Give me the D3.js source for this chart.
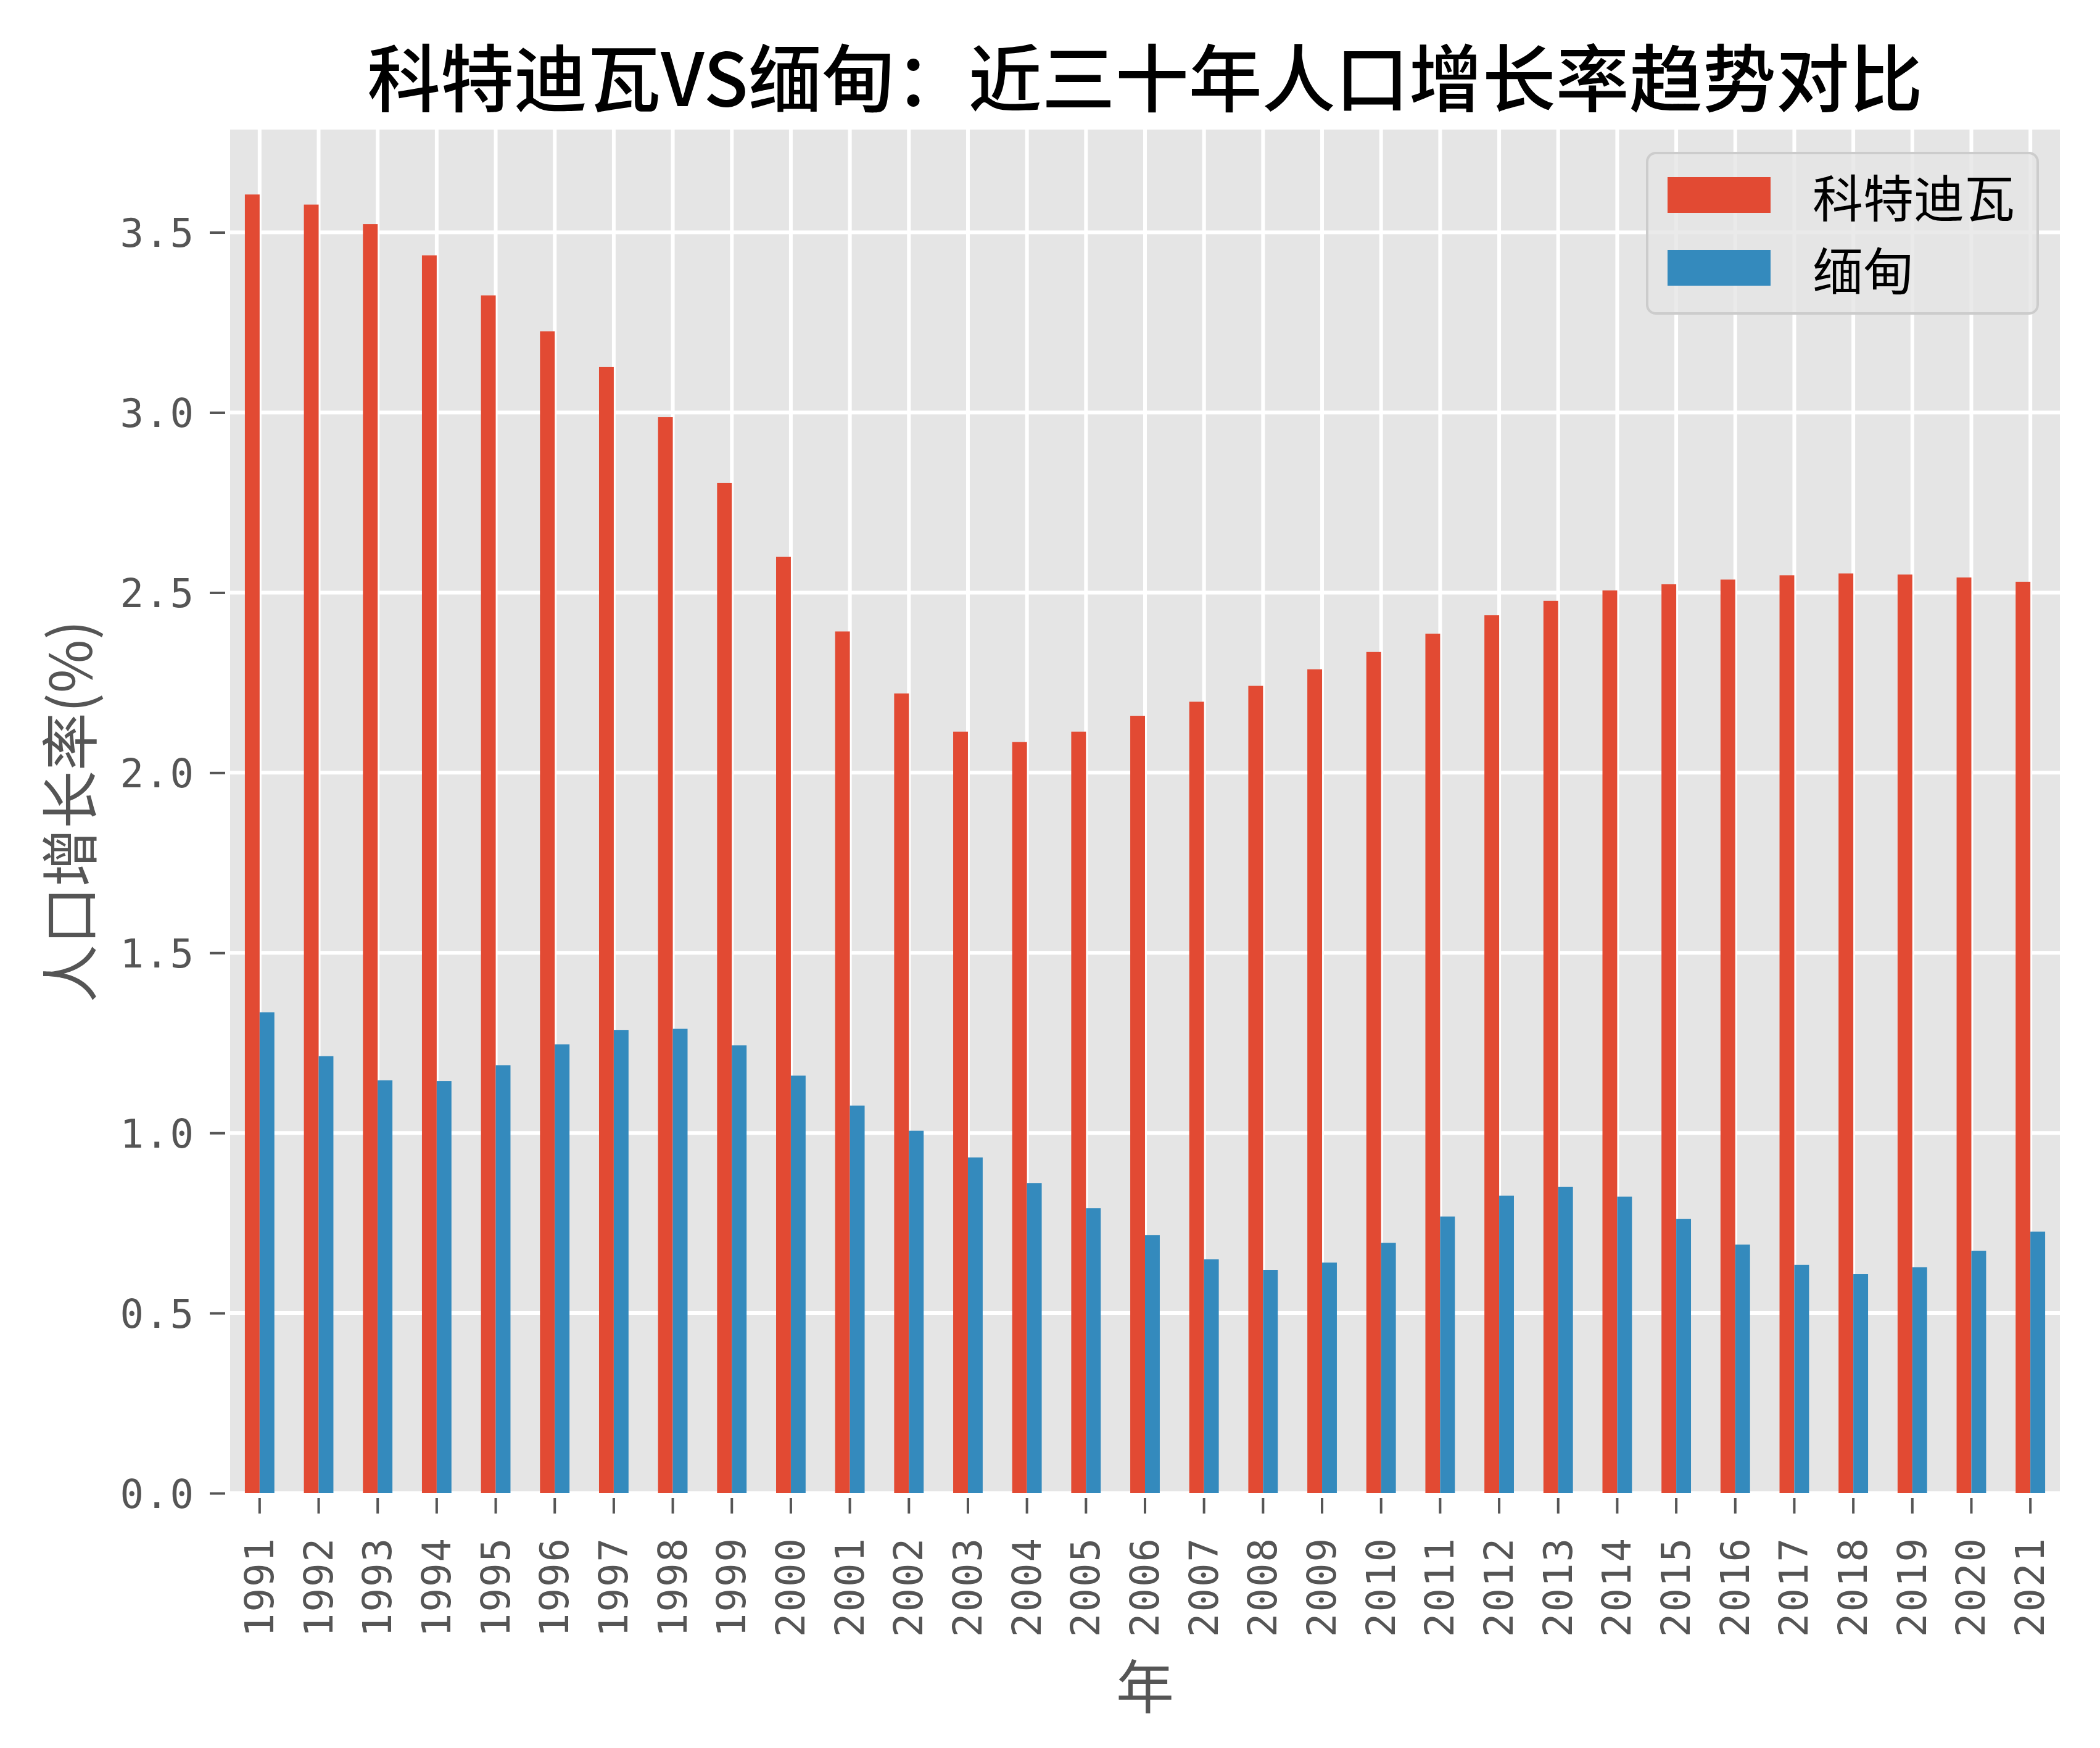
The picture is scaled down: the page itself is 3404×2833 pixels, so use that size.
<!DOCTYPE html>
<html>
<head>
<meta charset="utf-8">
<script src="https://cdn.jsdelivr.net/npm/d3@7"></script>
<style>
  html, body { margin: 0; padding: 0; background: #fff; }
</style>
</head>
<body>
<div id="chart"></div>
<script>
// 数据
const years = ["1991","1992","1993","1994","1995","1996","1997","1998","1999","2000",
               "2001","2002","2003","2004","2005","2006","2007","2008","2009","2010",
               "2011","2012","2013","2014","2015","2016","2017","2018","2019","2020","2021"]
const kotdivoire = [3.605, 3.577, 3.523, 3.436, 3.325, 3.225, 3.126, 2.987, 2.804, 2.599,
                    2.392, 2.220, 2.114, 2.085, 2.114, 2.158, 2.197, 2.241, 2.287, 2.335,
                    2.386, 2.437, 2.477, 2.506, 2.523, 2.536, 2.548, 2.553, 2.550, 2.542, 2.530]
const myanmar = [1.335, 1.213, 1.146, 1.144, 1.188, 1.246, 1.286, 1.289, 1.243, 1.159,
                 1.076, 1.006, 0.932, 0.861, 0.791, 0.716, 0.649, 0.620, 0.640, 0.695,
                 0.768, 0.826, 0.850, 0.823, 0.761, 0.690, 0.634, 0.608, 0.627, 0.673, 0.726]
const seriesNames = ["科特迪瓦", "缅甸"]
const seriesColors = ["#E24A33", "#348ABD"]
const yTicks = [0, 0.5, 1.0, 1.5, 2.0, 2.5, 3.0, 3.5]
const title = "科特迪瓦VS缅甸：近三十年人口增长率趋势对比"
const xTitle = "年"
const yTitle = "人口增长率(%)"

const W = 3404, H = 2833
const m = {left: 373, right: 3339, top: 210, bottom: 2420}
const cjk = "'Noto Sans CJK SC', 'Noto Sans', sans-serif"
const mono = "'DejaVu Sans Mono', 'Liberation Mono', monospace"

let svg = d3.select("#chart")
            .append("svg")
            .attr("width", W)
            .attr("height", H)
            .style("display", "block")

let x = d3.scaleBand()
          .domain(years)
          .range([m.left, m.right])
          .paddingInner(0).paddingOuter(0)

let yMax = d3.max(kotdivoire.concat(myanmar)) * 1.05
let y = d3.scaleLinear()
          .domain([0, yMax])
          .range([m.bottom, m.top])

let bw = x.bandwidth() * 0.25

// 背景
svg.append("rect")
   .attr("x", m.left).attr("y", m.top)
   .attr("width", m.right - m.left).attr("height", m.bottom - m.top)
   .attr("fill", "#E5E5E5")

// 网格
let grid = svg.append("g").attr("stroke", "#fff").attr("stroke-width", 6)
grid.selectAll(".gy").data(yTicks).enter()
    .append("line")
    .attr("x1", m.left).attr("x2", m.right)
    .attr("y1", d => y(d)).attr("y2", d => y(d))
grid.selectAll(".gx").data(years).enter()
    .append("line")
    .attr("x1", d => x(d) + x.bandwidth() / 2).attr("x2", d => x(d) + x.bandwidth() / 2)
    .attr("y1", m.top).attr("y2", m.bottom)

// 柱子
let series = [kotdivoire, myanmar]
series.forEach((vals, si) => {
    svg.append("g")
       .selectAll("rect")
       .data(vals).enter()
       .append("rect")
       .attr("x", (d, i) => x(years[i]) + x.bandwidth() / 2 - bw + si * bw)
       .attr("width", bw)
       .attr("y", d => y(d))
       .attr("height", d => y(0) - y(d))
       .attr("fill", seriesColors[si])
})

// y轴
let yAxis = svg.append("g")
               .attr("transform", `translate(${m.left - 8},0)`)
               .call(d3.axisLeft(y).tickValues(yTicks).tickFormat(d3.format(".1f"))
                       .tickSize(25).tickPadding(24))
yAxis.select(".domain").remove()
yAxis.selectAll(".tick line").attr("stroke", "#555").attr("stroke-width", 4)
yAxis.selectAll(".tick text")
     .attr("fill", "#555")
     .attr("font-family", mono)
     .attr("font-size", 64)
     .attr("letter-spacing", 2)
     .attr("dy", "0.36em")

// x轴
let xAxis = svg.append("g")
               .attr("transform", `translate(0,${m.bottom + 8})`)
               .call(d3.axisBottom(x).tickSize(25).tickPadding(0))
xAxis.select(".domain").remove()
xAxis.selectAll(".tick line").attr("stroke", "#555").attr("stroke-width", 4)
xAxis.selectAll(".tick text")
     .attr("fill", "#555")
     .attr("font-family", mono)
     .attr("font-size", 64)
     .attr("letter-spacing", 2)
     .attr("text-anchor", "end")
     .attr("dominant-baseline", "central")
     .attr("dy", null)
     .attr("transform", "translate(0,63) rotate(-90)")
     .attr("x", 0).attr("y", 0)

// 标题
svg.append("text")
   .attr("x", (m.left + m.right) / 2)
   .attr("y", 120)
   .attr("text-anchor", "middle")
   .attr("dominant-baseline", "central")
   .attr("font-family", cjk)
   .attr("font-size", 119)
   .attr("font-weight", 500)
   .attr("fill", "#000")
   .text(title)

svg.append("text")
   .attr("x", (m.left + m.right) / 2)
   .attr("y", 2728)
   .attr("text-anchor", "middle")
   .attr("dominant-baseline", "central")
   .attr("font-family", cjk)
   .attr("font-size", 94)
   .attr("fill", "#555")
   .text(xTitle)

svg.append("text")
   .attr("transform", `translate(108,${(m.top + m.bottom) / 2}) rotate(-90)`)
   .attr("text-anchor", "middle")
   .attr("dominant-baseline", "central")
   .attr("font-family", cjk)
   .attr("font-size", 94)
   .attr("fill", "#555")
   .text(yTitle)

// 图例
let lg = svg.append("g").attr("transform", "translate(2670,248)")
lg.append("rect")
  .attr("width", 633).attr("height", 260)
  .attr("rx", 14).attr("ry", 14)
  .attr("fill", "#E5E5E5").attr("fill-opacity", 0.8)
  .attr("stroke", "#CCCCCC").attr("stroke-width", 4)
let items = lg.selectAll(".item")
              .data(seriesNames).enter()
              .append("g")
              .attr("transform", (d, i) => `translate(0,${39 + i * 118})`)
items.append("rect")
     .attr("x", 33).attr("width", 167).attr("height", 58)
     .attr("fill", (d, i) => seriesColors[i])
items.append("text")
     .attr("x", 268).attr("y", 29)
     .attr("dominant-baseline", "central")
     .attr("font-family", cjk)
     .attr("font-size", 82)
     .attr("fill", "#000")
     .text(d => d)
</script>
</body>
</html>
